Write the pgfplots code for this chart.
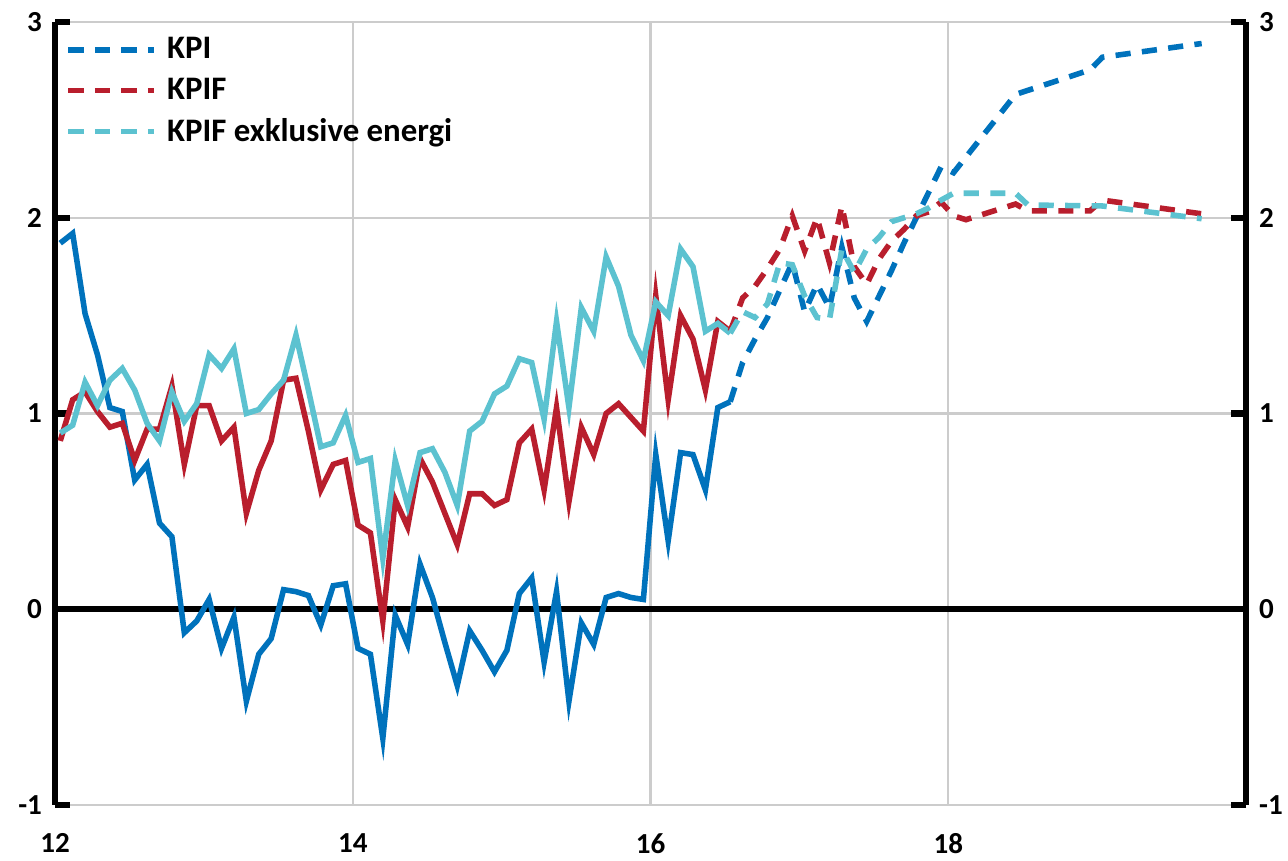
\documentclass[border=0pt]{standalone}
\usepackage{fontspec}
\setmainfont{Carlito}
\usepackage{pgfplots}
\usepackage{pgfplotstable}
\pgfplotsset{compat=1.18}
\definecolor{kpiblue}{RGB}{0,114,188}
\definecolor{kpired}{RGB}{185,30,45}
\definecolor{kpicyan}{RGB}{92,194,208}

\pgfplotstableread{
m v
0 1.87
1 1.92
2 1.51
3 1.30
4 1.03
5 1.01
6 0.66
7 0.74
8 0.44
9 0.37
10 -0.12
11 -0.06
12 0.05
13 -0.20
14 -0.04
15 -0.47
16 -0.23
17 -0.15
18 0.10
19 0.09
20 0.07
21 -0.08
22 0.12
23 0.13
24 -0.20
25 -0.23
26 -0.66
27 -0.03
28 -0.18
29 0.23
30 0.06
31 -0.17
32 -0.39
33 -0.11
34 -0.21
35 -0.32
36 -0.21
37 0.08
38 0.16
39 -0.27
40 0.09
41 -0.47
42 -0.07
43 -0.18
44 0.06
45 0.08
46 0.06
47 0.05
48 0.79
49 0.35
50 0.80
51 0.79
52 0.61
53 1.03
54 1.06
}\kpiout

\pgfplotstableread{
m v
0 0.86
1 1.07
2 1.11
3 1.01
4 0.93
5 0.95
6 0.76
7 0.92
8 0.92
9 1.14
10 0.74
11 1.04
12 1.04
13 0.86
14 0.93
15 0.49
16 0.71
17 0.86
18 1.17
19 1.18
20 0.91
21 0.61
22 0.74
23 0.76
24 0.43
25 0.39
26 -0.06
27 0.56
28 0.42
29 0.77
30 0.65
31 0.49
32 0.33
33 0.59
34 0.59
35 0.53
36 0.56
37 0.85
38 0.92
39 0.61
40 1.03
41 0.55
42 0.93
43 0.79
44 1.00
45 1.05
46 0.98
47 0.91
48 1.60
49 1.07
50 1.50
51 1.38
52 1.12
53 1.47
54 1.42
}\kpifout

\pgfplotstableread{
m v
0 0.90
1 0.94
2 1.16
3 1.04
4 1.17
5 1.23
6 1.12
7 0.95
8 0.86
9 1.11
10 0.96
11 1.05
12 1.30
13 1.23
14 1.33
15 1.00
16 1.02
17 1.10
18 1.17
19 1.40
20 1.12
21 0.83
22 0.85
23 0.99
24 0.75
25 0.77
26 0.26
27 0.76
28 0.53
29 0.80
30 0.82
31 0.70
32 0.53
33 0.91
34 0.96
35 1.10
36 1.14
37 1.28
38 1.26
39 0.97
40 1.47
41 1.03
42 1.54
43 1.42
44 1.80
45 1.65
46 1.40
47 1.27
48 1.57
49 1.50
50 1.84
51 1.75
52 1.42
53 1.46
54 1.41
}\kpifxeout

\pgfplotstableread{
m v
54 1.06
55 1.26
56 1.38
57 1.49
58 1.63
59 1.77
60 1.52
61 1.66
62 1.54
63 1.85
64 1.59
65 1.47
66 1.60
67 1.73
68 1.87
69 2.00
70 2.13
71 2.26
72 2.23
77 2.63
83 2.755
84 2.82
92 2.89
}\kpifc

\pgfplotstableread{
m v
54 1.42
55 1.59
56 1.65
57 1.74
58 1.84
59 2.01
60 1.83
61 2.00
62 1.77
63 2.06
64 1.75
65 1.66
66 1.79
67 1.88
68 1.94
69 2.01
70 2.03
71 2.08
72 2.01
73 1.99
77 2.07
78 2.035
83 2.035
84 2.09
92 2.02
}\kpiffc

\pgfplotstableread{
m v
54 1.41
55 1.52
56 1.49
57 1.56
58 1.77
59 1.76
60 1.60
61 1.49
62 1.48
63 1.84
64 1.72
65 1.84
66 1.90
67 1.98
68 2.00
69 2.02
70 2.05
71 2.09
72 2.125
77 2.125
78 2.065
84 2.06
92 1.995
}\kpifxefc

\begin{document}
\begin{tikzpicture}
\pgfplotsset{
  base/.style={
    width=471.7pt, height=310.1pt, scale only axis,
    at={(0,0)}, anchor=south west,
    xmin=12, xmax=20, ymin=-1, ymax=3,
    ytick={-1,0,1,2,3},
    yticklabels={-1,0,1,2,3},
    tick label style={font=\fontsize{11.5}{12}\selectfont\bfseries},
  },
  dsh/.style={dash pattern=on 6pt off 4.5pt},
}
\begin{axis}[
  base,
  separate axis lines,
  x axis line style={draw=none},
  y axis line style={line width=2.4pt, black},
  xtick={12,14,16,18},
  xticklabels={12,14,16,18},
  xtick style={draw=none},
  ytick pos=both,
  yticklabel pos=left,
  ytick style={line width=2.4pt, black},
  tick align=inside,
  major tick length=6pt,
  grid=major,
  major grid style={line width=0.9pt, black!20},
  xticklabel style={anchor=north, inner sep=0pt, yshift=-11pt},
  yticklabel style={anchor=east, inner sep=0pt, xshift=-5pt},
  legend style={draw=none, fill=none, at={(0,1)}, anchor=north west,
    xshift=4pt, yshift=-6pt, inner sep=0pt, row sep=6pt,
    font=\fontsize{13}{14}\selectfont\bfseries,
    nodes={inner sep=0pt}},
  legend cell align=left,
  /tikz/every odd column/.append style={column sep=4pt},
  legend image code/.code={\draw[#1] (0pt,0pt) -- (34pt,0pt);},
]
\addplot[black, line width=2.2pt, forget plot] coordinates {(12,0) (20,0)};
\addplot[kpiblue, line width=2.2pt, forget plot] table[x expr=12+(\thisrow{m}+0.42)/12, y=v] {\kpiout};
\addplot[kpired, line width=2.2pt, forget plot] table[x expr=12+(\thisrow{m}+0.42)/12, y=v] {\kpifout};
\addplot[kpicyan, line width=2.2pt, forget plot] table[x expr=12+(\thisrow{m}+0.42)/12, y=v] {\kpifxeout};
\addplot[kpiblue, line width=2.2pt, dsh] table[x expr=12+(\thisrow{m}+0.42)/12, y=v] {\kpifc};
\addlegendentry{KPI}
\addplot[kpired, line width=2.2pt, dsh] table[x expr=12+(\thisrow{m}+0.42)/12, y=v] {\kpiffc};
\addlegendentry{KPIF}
\addplot[kpicyan, line width=2.2pt, dsh] table[x expr=12+(\thisrow{m}+0.42)/12, y=v] {\kpifxefc};
\addlegendentry{KPIF exklusive energi}
\end{axis}
\begin{axis}[
  base,
  axis line style={draw=none},
  xtick=\empty,
  ytick style={draw=none},
  yticklabel pos=right,
  yticklabel style={anchor=west, inner sep=0pt, xshift=5pt},
]
\end{axis}
\path (-21.8pt,-21.8pt) rectangle (488.3pt,318.8pt);
\end{tikzpicture}
\end{document}
